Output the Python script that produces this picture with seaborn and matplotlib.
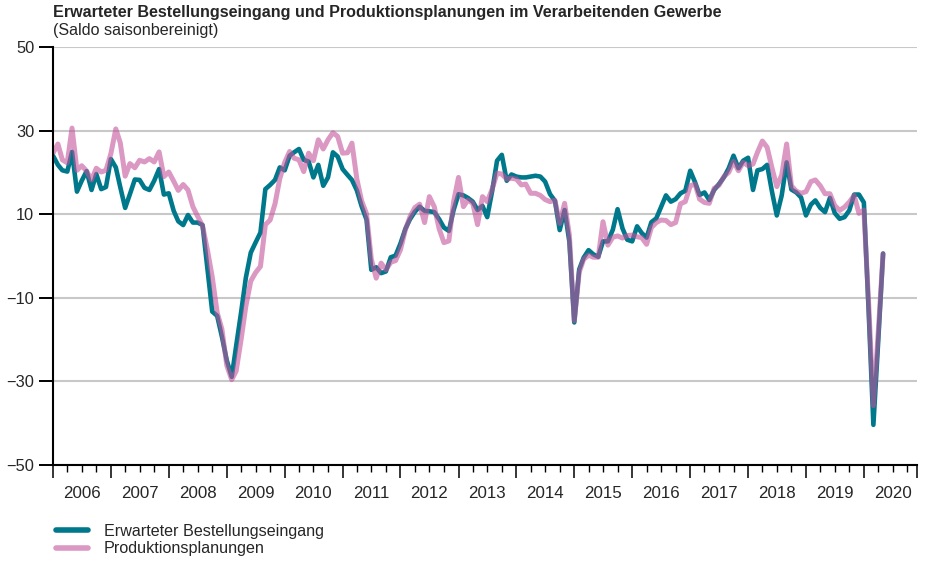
import pandas as pd
import seaborn as sns
import matplotlib.pyplot as plt
from matplotlib.lines import Line2D

# Saldo, saisonbereinigt, monatlich ab Jan 2006
bestellung = [
    24.0, 21.8, 20.5, 20.2, 24.9, 15.4, 18.0, 20.3, 15.8, 19.6, 16.0, 16.5,
    23.2, 21.2, 16.5, 11.5, 14.8, 18.3, 18.2, 16.3, 15.8, 18.0, 20.8, 14.7,
    15.0, 10.8, 8.3, 7.4, 9.8, 8.0, 8.0, 7.4, -3.0, -13.3, -14.3, -19.3,
    -25.0, -28.9, -21.5, -13.5, -5.2, 0.8, 3.2, 5.6, 16.0, 17.0, 18.2, 21.2,
    20.5, 24.0, 24.8, 25.6, 23.0, 22.6, 18.8, 21.8, 16.8, 18.8, 24.8, 23.8,
    20.8, 19.4, 18.2, 15.7, 11.9, 8.7, -3.3, -2.7, -4.1, -3.7, -0.3, 0.1,
    3.0, 6.5, 8.8, 10.6, 11.8, 10.8, 10.7, 10.5, 8.8, 6.8, 6.0, 11.0,
    14.8, 14.5, 13.9, 13.0, 11.0, 12.0, 9.3, 15.5, 22.8, 24.2, 18.0, 19.5,
    19.0, 18.8, 18.8, 19.0, 19.2, 19.0, 17.8, 14.8, 13.2, 6.2, 11.0, 3.4,
    -15.9, -3.2, -0.4, 1.4, 0.4, -0.2, 3.5, 3.5, 6.3, 11.2, 6.6, 3.9,
    3.5, 7.1, 5.5, 4.4, 8.1, 9.0, 11.7, 14.5, 13.0, 13.6, 15.0, 15.6,
    20.4, 17.6, 14.6, 15.2, 13.4, 15.8, 17.2, 18.8, 21.0, 24.0, 21.0, 22.8,
    23.5, 15.8, 20.5, 20.8, 21.8, 15.3, 9.7, 14.5, 22.4, 15.9, 15.2, 14.0,
    9.7, 12.3, 13.3, 11.5, 10.5, 13.9, 10.3, 8.9, 9.3, 10.9, 14.7, 14.7,
    12.8, -14.0, -40.4, -20.0, 0.6,
]
produktion = [
    24.6, 26.8, 23.0, 22.3, 30.6, 20.5, 21.6, 20.3, 18.2, 21.0, 20.1, 20.5,
    24.5, 30.4, 27.1, 19.1, 22.1, 21.1, 22.9, 22.5, 23.3, 22.5, 24.9, 19.0,
    20.1, 17.9, 15.7, 17.1, 15.8, 11.8, 9.5, 7.2, 1.4, -5.0, -13.5, -17.5,
    -26.2, -29.6, -27.5, -20.0, -12.0, -6.0, -4.0, -2.5, 7.5, 8.6, 12.5, 18.5,
    22.4, 25.0, 23.4, 23.0, 20.2, 24.6, 22.8, 27.8, 25.6, 27.8, 29.5, 28.6,
    24.6, 24.7, 27.0, 18.4, 13.2, 10.1, -0.7, -5.3, -1.7, -3.3, -1.5, -1.1,
    1.5, 6.3, 9.4, 11.6, 12.4, 8.0, 14.2, 11.8, 6.5, 3.2, 3.6, 13.0,
    18.8, 11.8, 13.4, 12.6, 7.5, 14.2, 13.0, 16.0, 19.8, 19.6, 18.4, 18.6,
    18.4, 17.0, 17.2, 15.0, 15.0, 14.5, 13.5, 13.0, 13.3, 7.8, 12.6, 5.0,
    -15.5, -3.9, -0.8, 0.2, -0.3, -0.3, 8.2, 2.6, 4.5, 4.8, 4.3, 4.9,
    5.0, 4.6, 4.4, 2.8, 6.8, 8.0, 8.6, 8.5, 7.5, 8.0, 12.5, 13.0,
    16.8, 17.2, 13.6, 12.8, 12.6, 16.2, 16.9, 19.0, 20.0, 22.6, 20.4, 22.4,
    21.6, 22.0, 24.8, 27.5, 26.0, 21.0, 16.6, 19.4, 26.8, 16.8, 15.5, 15.0,
    15.4, 17.8, 18.2, 16.8, 14.9, 14.9, 12.1, 10.9, 11.7, 12.9, 14.5, 10.2,
    11.0, -12.0, -35.8, -18.0, 0.5,
]
years = list(range(2006, 2021))
yticks = [-50, -30, -10, 10, 30, 50]
labels = ["Erwarteter Bestellungseingang", "Produktionsplanungen"]

teal = "#00788c"
pink = "#c4549c"

sns.set_style("white")
plt.rcParams["font.family"] = ["Liberation Sans", "DejaVu Sans"]

df = pd.DataFrame({
    "Monat": pd.date_range("2006-01-01", periods=len(bestellung), freq="MS"),
    labels[0]: bestellung,
    labels[1]: produktion,
})

fig = plt.figure(figsize=(9.3, 5.64), dpi=100)
ax = fig.add_axes([53 / 930, 1 - 465 / 564, (917 - 53) / 930, (465 - 47) / 564])

sns.lineplot(data=df, x="Monat", y=labels[0], color=teal, lw=3.3, ax=ax,
             solid_joinstyle="round", solid_capstyle="round")
sns.lineplot(data=df, x="Monat", y=labels[1], color=pink, alpha=0.6, lw=3.6, ax=ax,
             solid_joinstyle="round", solid_capstyle="round")

ax.set_ylim(-50, 50)
ax.set_yticks(yticks)
ax.yaxis.grid(True, color="#c8c8c8", lw=1.5)
ax.set_axisbelow(True)
ax.tick_params(axis="y", direction="out", length=10, width=1.4, pad=3.5,
               labelsize=11.8, color="black", left=True)

start, end = pd.Timestamp("2006-01-01"), pd.Timestamp("2020-12-01")
ax.set_xlim(start, end)
major = [pd.Timestamp(f"{y}-01-01") for y in years] + [end]
minor = [pd.Timestamp(f"{y}-{m:02d}-01") for y in years for m in (4, 7, 10)]
ax.set_xticks(major)
ax.set_xticklabels([""] * len(major))
ax.set_xticks(minor, minor=True)
ax.tick_params(axis="x", which="major", direction="out", length=9.5, width=1.1,
               color="black", bottom=True)
ax.tick_params(axis="x", which="minor", direction="out", length=5, width=1.0,
               color="black", bottom=True)
for y in years:
    ax.text(pd.Timestamp(f"{y}-07-01"), -0.067, str(y), transform=ax.get_xaxis_transform(),
            ha="center", va="center", fontsize=12.2)

ax.set_xlabel("")
ax.set_ylabel("")
for s in ["top", "right"]:
    ax.spines[s].set_visible(False)
for s in ["left", "bottom"]:
    ax.spines[s].set_color("black")
    ax.spines[s].set_linewidth(1.5)

fig.text(53 / 930, 1 - 13 / 564,
         "Erwarteter Bestellungseingang und Produktionsplanungen im Verarbeitenden Gewerbe",
         fontsize=11.6, fontweight="bold", va="center", ha="left")
fig.text(53 / 930, 1 - 30 / 564, "(Saldo saisonbereinigt)", fontsize=11.6, va="center", ha="left")

handles = [Line2D([], [], color=teal, lw=4, solid_capstyle="round"),
           Line2D([], [], color=pink, alpha=0.6, lw=4, solid_capstyle="round")]
fig.legend(handles, labels, loc="upper left", bbox_to_anchor=(56 / 930, 1 - 524 / 564),
           frameon=False, fontsize=11.6, handlelength=2.0, handletextpad=0.95,
           labelspacing=0.15, borderpad=0, borderaxespad=0)

fig.savefig("out.png", dpi=100)
